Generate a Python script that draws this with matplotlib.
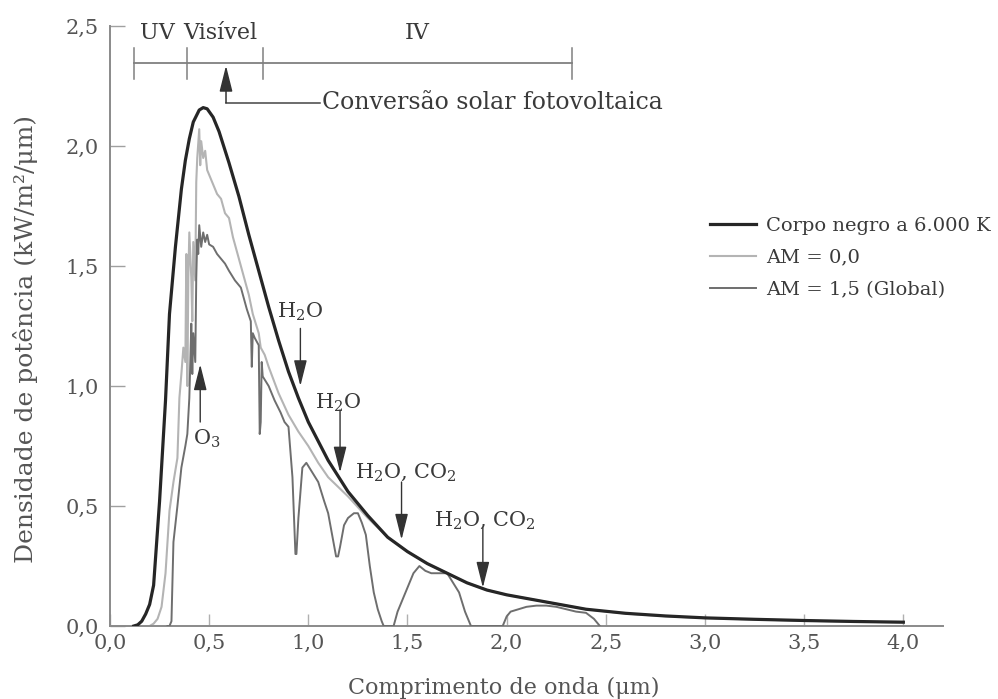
import matplotlib
matplotlib.use("Agg")
import matplotlib.pyplot as plt
from matplotlib.lines import Line2D

plt.rcParams['font.family'] = ['DejaVu Serif']
plt.rcParams['mathtext.fontset'] = 'dejavuserif'

# ---------------- data ----------------
lam_bb = [0.12, 0.14, 0.16, 0.18, 0.20, 0.22, 0.25, 0.28, 0.30, 0.33, 0.36, 0.38,
          0.40, 0.42, 0.45, 0.47, 0.49, 0.52, 0.55, 0.60, 0.65, 0.70, 0.75, 0.80,
          0.85, 0.90, 0.95, 1.00, 1.10, 1.20, 1.30, 1.40, 1.50, 1.60, 1.70, 1.80,
          1.90, 2.00, 2.20, 2.40, 2.60, 2.80, 3.00, 3.25, 3.50, 3.75, 4.00]
v_bb = [0.0, 0.005, 0.02, 0.05, 0.09, 0.17, 0.52, 0.94, 1.30, 1.58, 1.82, 1.94,
        2.03, 2.10, 2.15, 2.16, 2.155, 2.12, 2.06, 1.93, 1.79, 1.63, 1.48, 1.33,
        1.19, 1.06, 0.95, 0.85, 0.69, 0.56, 0.46, 0.37, 0.31, 0.26, 0.22, 0.18,
        0.15, 0.13, 0.10, 0.07, 0.053, 0.042, 0.034, 0.028, 0.023, 0.019, 0.016]

lam_am0 = [0.20, 0.22, 0.24, 0.26, 0.28, 0.30, 0.32, 0.34, 0.35, 0.36, 0.37, 0.38,
           0.385, 0.39, 0.395, 0.40, 0.41, 0.415, 0.42, 0.43, 0.435, 0.44, 0.45,
           0.455, 0.46, 0.47, 0.48, 0.49, 0.50, 0.52, 0.54, 0.56, 0.58, 0.60, 0.62,
           0.65, 0.68, 0.70, 0.72, 0.75, 0.76, 0.78, 0.80, 0.85, 0.90, 0.95, 1.00,
           1.05, 1.10, 1.20, 1.30, 1.40, 1.50, 1.60, 1.70, 1.80, 1.90, 2.00, 2.20,
           2.40, 2.60, 2.80, 3.00, 3.50, 4.00]
v_am0 = [0.0, 0.01, 0.03, 0.08, 0.22, 0.48, 0.60, 0.70, 0.95, 1.05, 1.16, 1.10,
         1.55, 1.00, 1.45, 1.64, 1.45, 1.27, 1.60, 1.44, 1.85, 1.95, 2.07,
         1.92, 2.02, 1.95, 1.98, 1.90, 1.88, 1.84, 1.80, 1.78, 1.72, 1.70, 1.62,
         1.53, 1.44, 1.38, 1.30, 1.22, 1.16, 1.13, 1.08, 0.97, 0.88, 0.81, 0.75,
         0.68, 0.62, 0.54, 0.45, 0.37, 0.31, 0.26, 0.22, 0.18, 0.15, 0.13, 0.10,
         0.07, 0.052, 0.041, 0.033, 0.022, 0.015]

lam_am15 = [0.29, 0.30, 0.31, 0.32, 0.34, 0.36, 0.38, 0.39, 0.40, 0.405, 0.41, 0.415,
            0.42, 0.43, 0.435, 0.44, 0.445, 0.45, 0.46, 0.47, 0.48, 0.49, 0.50,
            0.52, 0.54, 0.56, 0.58, 0.60, 0.63, 0.66, 0.69, 0.71, 0.715, 0.72,
            0.73, 0.75, 0.755, 0.76, 0.765, 0.77, 0.80, 0.83, 0.86, 0.88, 0.90,
            0.92, 0.935, 0.94, 0.95, 0.97, 0.99, 1.02, 1.05, 1.08, 1.10, 1.12,
            1.14, 1.15, 1.16, 1.18, 1.20, 1.23, 1.25, 1.27, 1.29, 1.31, 1.33,
            1.35, 1.37, 1.38, 1.43, 1.45, 1.48, 1.50, 1.53, 1.56, 1.59, 1.62,
            1.66, 1.70, 1.73, 1.76, 1.79, 1.82, 1.98, 2.00, 2.02, 2.06, 2.10,
            2.15, 2.20, 2.25, 2.30, 2.35, 2.40, 2.44, 2.47]
v_am15 = [0.0, 0.0, 0.02, 0.35, 0.50, 0.66, 0.75, 0.80, 0.95, 1.10, 1.26, 1.05,
          1.22, 1.10, 1.45, 1.61, 1.55, 1.67, 1.58, 1.64, 1.60, 1.63, 1.59,
          1.58, 1.55, 1.53, 1.51, 1.48, 1.44, 1.41, 1.32, 1.27, 1.08, 1.22,
          1.20, 1.17, 0.80, 0.85, 1.10, 1.04, 1.00, 0.94, 0.89, 0.85, 0.83,
          0.62, 0.30, 0.30, 0.45, 0.66, 0.68, 0.64, 0.60, 0.52, 0.47, 0.38,
          0.29, 0.29, 0.33, 0.42, 0.45, 0.47, 0.47, 0.43, 0.38, 0.25, 0.14,
          0.07, 0.02, 0.0, 0.0, 0.06, 0.12, 0.16, 0.22, 0.25, 0.23, 0.22,
          0.22, 0.22, 0.18, 0.14, 0.06, 0.0, 0.0, 0.04, 0.06, 0.07, 0.08,
          0.085, 0.085, 0.08, 0.07, 0.06, 0.055, 0.03, 0.0]

series_labels = ["Corpo negro a 6.000 K", "AM = 0,0", "AM = 1,5 (Global)"]

xticks = [0.0, 0.5, 1.0, 1.5, 2.0, 2.5, 3.0, 3.5, 4.0]
xtick_labels = ["0,0", "0,5", "1,0", "1,5", "2,0", "2,5", "3,0", "3,5", "4,0"]
yticks = [0.0, 0.5, 1.0, 1.5, 2.0, 2.5]
ytick_labels = ["0,0", "0,5", "1,0", "1,5", "2,0", "2,5"]

# spectral bands bracket: boundaries (um)
band_edges = [0.12, 0.39, 0.77, 2.33]
band_names = ["UV", "Visível", "IV"]
band_label_x = [0.24, 0.555, 1.55]

# absorption annotations
absorb_labels = ["H$_2$O", "H$_2$O", "H$_2$O, CO$_2$", "H$_2$O, CO$_2$"]
absorb_x = [0.96, 1.16, 1.47, 1.88]
absorb_top = [1.24, 0.90, 0.60, 0.41]
absorb_tip = [1.00, 0.64, 0.36, 0.16]
absorb_label_x = [0.96, 1.15, 1.49, 1.89]
absorb_label_y = [1.31, 0.93, 0.64, 0.44]

# ---------------- figure ----------------
fig = plt.figure(figsize=(9.98, 6.99), dpi=100)
ax = fig.add_axes([0.1102, 0.1044, 0.8347, 0.8584])

c_bb = "#262626"
c_am0 = "#b4b4b4"
c_am15 = "#6e6e6e"
txt = "#3a3a3a"
axc = "#8a8a8a"
fs = 15

ax.plot(lam_am0, v_am0, color=c_am0, lw=1.5, label=series_labels[1], zorder=2)
ax.plot(lam_am15, v_am15, color=c_am15, lw=1.4, label=series_labels[2], zorder=3)
ax.plot(lam_bb, v_bb, color=c_bb, lw=2.3, label=series_labels[0], zorder=4)

ax.set_xlim(0, 4.2)
ax.set_ylim(0, 2.5)
for s in ["top", "right"]:
    ax.spines[s].set_visible(False)
for s in ["left", "bottom"]:
    ax.spines[s].set_color(axc)
    ax.spines[s].set_linewidth(1.4)

ax.set_xticks(xticks)
ax.set_xticklabels(xtick_labels)
ax.set_yticks(yticks)
ax.set_yticklabels(ytick_labels)
ax.tick_params(axis="x", direction="in", length=9, width=1.0, color="#b0b0b0",
               labelsize=fs, labelcolor="#555555", pad=6)
ax.tick_params(axis="y", direction="in", length=11, width=1.0, color="#a0a0a0",
               labelsize=fs, labelcolor="#555555", pad=8)

ax.set_xlabel("Comprimento de onda (μm)", fontsize=16, color="#555555")
ax.xaxis.set_label_coords(0.473, -0.084)
ax.set_ylabel("Densidade de potência (kW/m²/μm)", fontsize=18, color="#555555")
ax.yaxis.set_label_coords(-0.086, 0.478)

# bracket for spectral bands
yb = 2.345
ax.plot([band_edges[0], band_edges[-1]], [yb, yb], color="#808080", lw=1.3, clip_on=False)
for e in band_edges:
    ax.plot([e, e], [2.28, 2.41], color="#808080", lw=1.1, clip_on=False)
for name, xl in zip(band_names, band_label_x):
    ax.text(xl, 2.47, name, ha="center", va="center", fontsize=16, color=txt, clip_on=False)

# photovoltaic conversion arrow
ax.plot([0.585, 1.06], [2.18, 2.18], color="#444444", lw=1.1)
ax.annotate("", xy=(0.585, 2.335), xytext=(0.585, 2.18),
            arrowprops=dict(arrowstyle="-|>,head_length=0.8,head_width=0.2",
                            color="#333333", lw=1.1, mutation_scale=20,
                            shrinkA=0, shrinkB=0))
ax.text(1.07, 2.18, "Conversão solar fotovoltaica", ha="left", va="center",
        fontsize=17, color=txt)

# O3 arrow
ax.annotate("", xy=(0.455, 1.09), xytext=(0.455, 0.85),
            arrowprops=dict(arrowstyle="-|>,head_length=0.8,head_width=0.2",
                            color="#333333", lw=1.0, mutation_scale=20,
                            shrinkA=0, shrinkB=0))
ax.text(0.49, 0.78, "O$_3$", ha="center", va="center", fontsize=fs, color=txt)

# absorption arrows
for lab, xa, yt, yp, lx, ly in zip(absorb_labels, absorb_x, absorb_top, absorb_tip,
                                   absorb_label_x, absorb_label_y):
    ax.annotate("", xy=(xa, yp), xytext=(xa, yt),
                arrowprops=dict(arrowstyle="-|>,head_length=0.8,head_width=0.2",
                                color="#333333", lw=1.0, mutation_scale=20,
                                shrinkA=0, shrinkB=0))
    ax.text(lx, ly, lab, ha="center", va="center", fontsize=fs, color=txt)

# legend
handles = [Line2D([], [], color=c_bb, lw=2.3),
           Line2D([], [], color=c_am0, lw=1.5),
           Line2D([], [], color=c_am15, lw=1.4)]
fig.legend(handles, series_labels, loc="upper left",
           bbox_to_anchor=(700 / 998, 1 - 207 / 699), frameon=False,
           fontsize=14, handlelength=2.4, handletextpad=0.5,
           labelspacing=0.72, borderpad=0, labelcolor=txt)

fig.savefig("out.png", dpi=100, facecolor="white")
